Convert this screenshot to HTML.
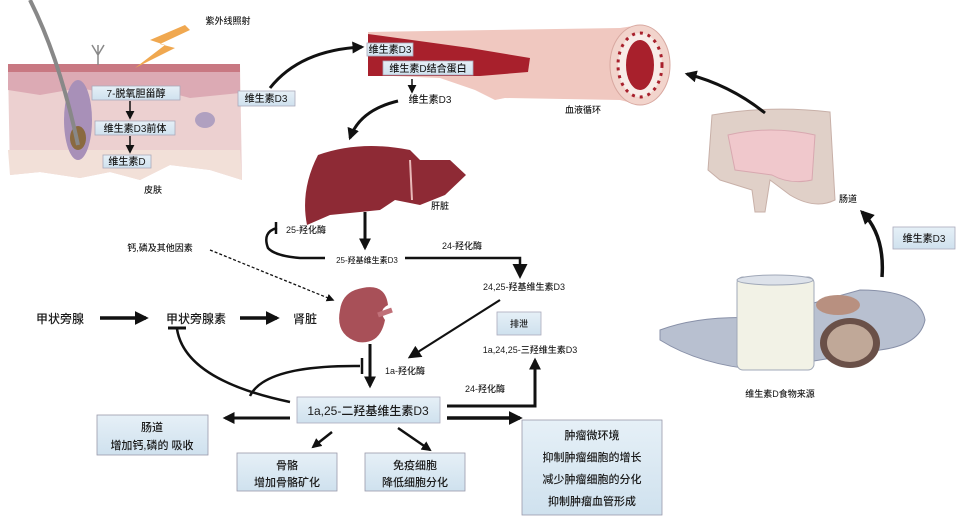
<!DOCTYPE html>
<html><head><meta charset="utf-8"><style>
body{margin:0;background:#fff;}
svg text{font-family:"Liberation Sans","Noto Sans CJK SC",sans-serif;fill:#1a1a1a;font-weight:500;}
</style></head><body>
<svg width="960" height="520" viewBox="0 0 960 520" xmlns="http://www.w3.org/2000/svg">
<defs>
<linearGradient id="bx" x1="0" y1="0" x2="0" y2="1"><stop offset="0" stop-color="#e6f0f7"/><stop offset="1" stop-color="#cfe1ee"/></linearGradient>
<marker id="ah" viewBox="0 0 10 10" refX="8" refY="5" markerWidth="4" markerHeight="4" orient="auto"><path d="M0,0L10,5L0,10z" fill="#111"/></marker>
<marker id="ah2" viewBox="0 0 10 10" refX="8" refY="5" markerWidth="6" markerHeight="6" orient="auto"><path d="M0,0L10,5L0,10z" fill="#111"/></marker>
</defs>
<rect width="960" height="520" fill="#fff"/>
<!-- skin -->
<path d="M8,68 L240,65 L242,180 L210,170 L170,165 L140,180 L110,172 L80,178 L40,172 L10,175 Z" fill="#ecd0d0"/>
<path d="M8,70 L240,66 L240,93 L190,98 L160,90 L120,96 L80,88 L40,95 L8,90 Z" fill="#dcaab4"/>
<rect x="8" y="64" width="232" height="8" fill="#c87882"/>
<path d="M8,150 L240,150 L242,180 L210,170 L170,165 L140,180 L110,172 L80,178 L40,172 L10,175 Z" fill="#f2e0d8"/>
<ellipse cx="78" cy="120" rx="14" ry="40" fill="#a890b8"/>
<ellipse cx="78" cy="138" rx="8" ry="12" fill="#8a6a40"/>
<path d="M30,0 Q60,60 78,145" stroke="#888" stroke-width="4" fill="none"/>
<ellipse cx="205" cy="120" rx="10" ry="8" fill="#b0a0c0"/>
<path d="M98,45 L98,65 M92,45 L98,55 L104,45" stroke="#888" stroke-width="1.5" fill="none"/>
<path d="M185,25 L150,40 L165,45 L135,68 L175,48 L160,44 L190,30 Z" fill="#f0a850"/>
<text x="228" y="24" font-size="9" text-anchor="middle">紫外线照射</text>
<g font-size="10">
<rect x="92" y="86" width="88" height="14" fill="url(#bx)" stroke="#aab" stroke-width="0.8"/><text x="136" y="97" text-anchor="middle">7-脱氧胆甾醇</text>
<rect x="95" y="121" width="80" height="14" fill="url(#bx)" stroke="#aab" stroke-width="0.8"/><text x="135" y="132" text-anchor="middle">维生素D3前体</text>
<rect x="103" y="155" width="48" height="13" fill="url(#bx)" stroke="#aab" stroke-width="0.8"/><text x="127" y="165" text-anchor="middle">维生素D</text>
</g>
<path d="M130,101 L130,118" stroke="#111" stroke-width="1.5" marker-end="url(#ah2)"/>
<path d="M130,136 L130,152" stroke="#111" stroke-width="1.5" marker-end="url(#ah2)"/>
<text x="153" y="193" font-size="9" text-anchor="middle">皮肤</text>
<rect x="238" y="91" width="57" height="15" fill="url(#bx)" stroke="#aab" stroke-width="0.8"/><text x="266" y="102" font-size="10" text-anchor="middle">维生素D3</text>
<path d="M270,88 Q300,50 362,47" stroke="#111" stroke-width="3" fill="none" marker-end="url(#ah)"/>
<!-- vessel -->
<path d="M368,32 L620,28 L640,25 L640,105 L620,100 L505,98 L495,100 L475,90 L440,78 L368,75 Z" fill="#f0c8c0"/>
<path d="M368,34 L470,48 L530,58 L528,72 L480,76 L368,76 Z" fill="#a8202c"/>
<ellipse cx="640" cy="65" rx="30" ry="40" fill="#f2d4cc" stroke="#d8a8a0"/>
<ellipse cx="640" cy="65" rx="22" ry="32" fill="#f8ece8" stroke="#a8202c" stroke-dasharray="3 5" stroke-width="3"/>
<ellipse cx="640" cy="65" rx="14" ry="25" fill="#a8202c"/>
<rect x="367" y="43" width="46" height="13" fill="url(#bx)" stroke="#aab" stroke-width="0.8"/><text x="390" y="53" font-size="10" text-anchor="middle">维生素D3</text>
<rect x="383" y="61" width="90" height="14" fill="url(#bx)" stroke="#aab" stroke-width="0.8"/><text x="428" y="72" font-size="10" text-anchor="middle">维生素D结合蛋白</text>
<path d="M412,79 L412,92" stroke="#111" stroke-width="1.5" marker-end="url(#ah2)"/>
<text x="430" y="103" font-size="10" text-anchor="middle">维生素D3</text>
<text x="583" y="113" font-size="9" text-anchor="middle">血液循环</text>
<path d="M398,101 Q360,110 350,138" stroke="#111" stroke-width="3" fill="none" marker-end="url(#ah)"/>
<!-- liver -->
<path d="M318,155 Q360,140 410,150 L420,160 L450,160 L466,175 L445,195 L420,205 L395,200 L380,210 L330,215 L307,225 Q300,190 318,155 Z" fill="#8e2a35"/>
<path d="M410,160 L412,200" stroke="#e8b8b8" stroke-width="2"/>
<text x="440" y="209" font-size="9" text-anchor="middle">肝脏</text>
<path d="M365,212 L365,248" stroke="#111" stroke-width="3" marker-end="url(#ah)"/>
<text x="286" y="233" font-size="9">25-羟化酶</text>
<path d="M276,222 L276,234" stroke="#111" stroke-width="2.5"/>
<path d="M277,228 Q262,232 268,248 Q275,256 300,258 L520,258 L520,276" stroke="#111" stroke-width="2.5" fill="none" marker-end="url(#ah2)"/>
<rect x="325" y="254" width="80" height="10" fill="#fff"/>
<text x="367" y="263" font-size="8" text-anchor="middle">25-羟基维生素D3</text>
<text x="462" y="249" font-size="9" text-anchor="middle">24-羟化酶</text>
<text x="524" y="290" font-size="9" text-anchor="middle">24,25-羟基维生素D3</text>
<text x="160" y="251" font-size="9" text-anchor="middle">钙,磷及其他因素</text>
<path d="M210,250 L333,300" stroke="#111" stroke-width="1.3" stroke-dasharray="3 2" marker-end="url(#ah2)"/>
<!-- kidney -->
<path d="M355,290 Q385,280 388,305 Q378,310 385,320 Q380,345 358,342 Q335,335 340,310 Q342,295 355,290 Z" fill="#a85058"/>
<path d="M378,315 L392,310" stroke="#c07078" stroke-width="5"/>
<g font-size="12">
<text x="60" y="323" text-anchor="middle">甲状旁腺</text>
<text x="196" y="323" text-anchor="middle">甲状旁腺素</text>
<text x="305" y="323" text-anchor="middle">肾脏</text>
</g>
<path d="M100,318 L146,318" stroke="#111" stroke-width="3.5" marker-end="url(#ah)"/>
<path d="M240,318 L277,318" stroke="#111" stroke-width="3.5" marker-end="url(#ah)"/>
<path d="M168,328 L186,328" stroke="#111" stroke-width="3"/>
<path d="M177,329 Q185,380 290,402" stroke="#111" stroke-width="2.5" fill="none"/>
<path d="M250,396 Q265,365 360,366" stroke="#111" stroke-width="2.5" fill="none"/>
<path d="M362,358 L362,374" stroke="#111" stroke-width="2.5"/>
<path d="M370,344 L370,386" stroke="#111" stroke-width="3" marker-end="url(#ah)"/>
<path d="M500,300 L410,357" stroke="#111" stroke-width="2.2" marker-end="url(#ah2)"/>
<text x="385" y="374" font-size="9">1a-羟化酶</text>
<rect x="497" y="312" width="44" height="23" fill="url(#bx)" stroke="#aab" stroke-width="0.8"/><text x="519" y="327" font-size="9" text-anchor="middle">排泄</text>
<text x="530" y="353" font-size="9" text-anchor="middle">1a,24,25-三羟维生素D3</text>
<path d="M447,406 L535,406 L535,360" stroke="#111" stroke-width="3" fill="none" marker-end="url(#ah)"/>
<text x="465" y="392" font-size="9">24-羟化酶</text>
<rect x="297" y="397" width="143" height="26" fill="url(#bx)" stroke="#aab" stroke-width="0.8"/><text x="368" y="415" font-size="12" text-anchor="middle">1a,25-二羟基维生素D3</text>
<path d="M447,418 L520,418" stroke="#111" stroke-width="3.5" marker-end="url(#ah)"/>
<path d="M290,418 L225,418" stroke="#111" stroke-width="3" marker-end="url(#ah)"/>
<path d="M332,432 L313,447" stroke="#111" stroke-width="2.5" marker-end="url(#ah)"/>
<path d="M398,428 L430,450" stroke="#111" stroke-width="2.5" marker-end="url(#ah)"/>
<g font-size="11" text-anchor="middle">
<rect x="97" y="415" width="111" height="40" fill="url(#bx)" stroke="#99a" stroke-width="0.8"/><text x="152" y="431">肠道</text><text x="152" y="449">增加钙,磷的 吸收</text>
<rect x="237" y="453" width="100" height="38" fill="url(#bx)" stroke="#99a" stroke-width="0.8"/><text x="287" y="469">骨骼</text><text x="287" y="486">增加骨骼矿化</text>
<rect x="365" y="453" width="100" height="38" fill="url(#bx)" stroke="#99a" stroke-width="0.8"/><text x="415" y="469">免疫细胞</text><text x="415" y="486">降低细胞分化</text>
<rect x="522" y="420" width="140" height="95" fill="url(#bx)" stroke="#99a" stroke-width="0.8"/><text x="592" y="439">肿瘤微环境</text><text x="592" y="461">抑制肿瘤细胞的增长</text><text x="592" y="483">减少肿瘤细胞的分化</text><text x="592" y="505">抑制肿瘤血管形成</text>
</g>
<!-- intestine -->
<path d="M712,115 Q770,105 830,112 L835,200 Q815,210 790,195 L770,180 L765,212 L755,212 L752,190 L720,180 L708,170 Z" fill="#e0d0c8" stroke="#c8b0a8"/>
<path d="M728,135 Q770,125 815,135 L812,180 Q790,185 772,175 L735,170 Z" fill="#f0c8cc" stroke="#d8a8b0"/>
<text x="848" y="202" font-size="9" text-anchor="middle">肠道</text>
<path d="M765,113 Q730,85 687,74" stroke="#111" stroke-width="3" fill="none" marker-end="url(#ah)"/>
<path d="M882,277 Q885,235 862,212" stroke="#111" stroke-width="3.5" fill="none" marker-end="url(#ah)"/>
<rect x="893" y="227" width="62" height="22" fill="url(#bx)" stroke="#aab" stroke-width="0.8"/><text x="924" y="242" font-size="10" text-anchor="middle">维生素D3</text>
<!-- food -->
<path d="M660,330 Q700,315 760,318 L860,290 Q920,290 925,320 Q920,345 880,350 L760,370 Q700,365 660,340 Z" fill="#b8c0d0" stroke="#8890a8"/>
<rect x="737" y="277" width="77" height="93" rx="6" fill="#f2f2e6" stroke="#a0a8b8"/>
<ellipse cx="775" cy="280" rx="38" ry="5" fill="#dde2ea" stroke="#a0a8b8"/>
<ellipse cx="850" cy="343" rx="30" ry="25" fill="#6a5048"/>
<ellipse cx="850" cy="343" rx="23" ry="19" fill="#c0a898"/>
<ellipse cx="838" cy="305" rx="22" ry="10" fill="#b89080"/>
<text x="780" y="397" font-size="9" text-anchor="middle">维生素D食物来源</text>
</svg>
</body></html>
